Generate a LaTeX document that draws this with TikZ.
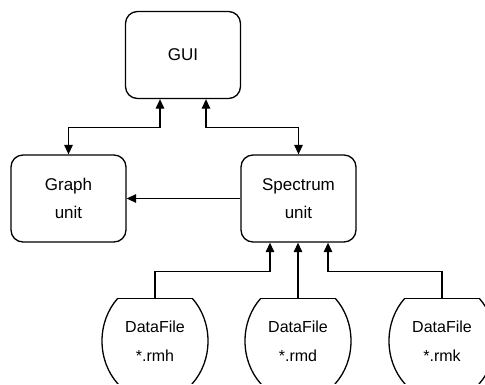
\documentclass[tikz,border=0pt]{standalone}
\usepackage{fontspec}
\setmainfont{Liberation Sans}
\usetikzlibrary{arrows.meta}
\begin{document}
\begin{tikzpicture}[x=1pt,y=-1pt,
  line width=1.3pt,
  unitbox/.style={draw, rounded corners=12pt, minimum width=115pt, minimum height=87pt,
    align=center, font=\fontsize{17}{28}\selectfont, inner sep=0pt},
  filenode/.style={minimum width=106pt, minimum height=84pt, inner sep=0pt,
    align=center, font=\fontsize{16}{29}\selectfont},
  tip/.tip={Triangle[length=9.5pt,width=8.5pt]},
  link/.style={-tip},
  duplex/.style={tip-tip}]
\useasboundingbox (0,0) rectangle (485,384);

% processing units
\node[unitbox] (gui)   at (183,55)    {GUI};
\node[unitbox] (graph) at (68.5,198.5) {Graph\\unit};
\node[unitbox] (spec)  at (298.5,198.5) {Spectrum\\unit};

% data file sources (outline drawn below)
\node[filenode] (df1) at (155,341) {DataFile\\*.rmh};
\node[filenode] (df2) at (298,341) {DataFile\\*.rmd};
\node[filenode] (df3) at (442,341) {DataFile\\*.rmk};

% barrel outlines: an ellipse cut by a flat top chord
\foreach \n in {df1,df2,df3}{
  \begin{scope}
    \clip ([xshift=-60pt]\n.north) rectangle ([xshift=60pt]\n.south);
    \draw (\n.center) ellipse [x radius=53pt, y radius=60pt];
  \end{scope}
  \draw ([xshift=-37.5pt]\n.north) -- ([xshift=37.5pt]\n.north);
}

% connectors
\draw[duplex] ([xshift=-23pt]gui.south) -- ++(0,28) -| (graph.north);
\draw[duplex] ([xshift=23pt]gui.south) -- ++(0,28) -| (spec.north);
\draw[link] (spec) -- (graph);
\draw[link] (df1.north) -- ++(0,-27) -| ([xshift=-28.5pt]spec.south);
\draw[link] (df2.north) -- (df2.north |- spec.south);
\draw[link] (df3.north) -- ++(0,-27) -| ([xshift=29.5pt]spec.south);
\end{tikzpicture}
\end{document}
